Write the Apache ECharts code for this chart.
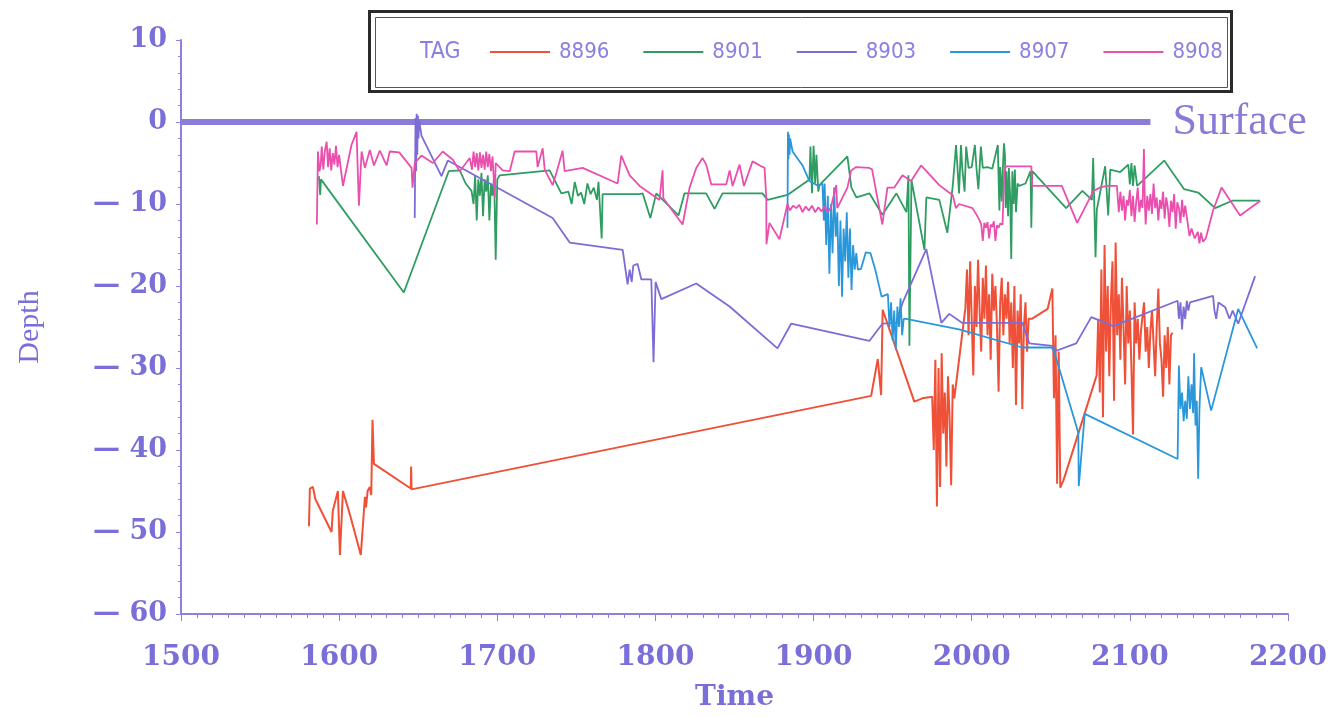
<!DOCTYPE html>
<html><head><meta charset="utf-8">
<script src="https://cdn.jsdelivr.net/npm/echarts@6/dist/echarts.min.js"></script>
<style>html,body{margin:0;padding:0;background:#fff}#c{width:1344px;height:717px}</style>
</head><body><div id="c"></div>
<script>
const tagNames = ['8896','8901','8903','8907','8908'];
const tagColors = ['#ef5138','#2f9d62','#7c6cd6','#2b97db','#ea4fae'];
const surfaceLine = [[1500,0],[2113,0]];

const s8896 = [[1580.9,-49.3],[1581.5,-44.7],[1583.4,-44.5],[1585,-46],[1595.2,-50],[1596,-47.4],[1599.2,-45],[1600.5,-52.8],[1602.4,-45],[1607,-48],[1613.7,-52.8],[1616.3,-45.7],[1617,-47],[1618,-45],[1619.4,-44.5],[1620.3,-45.5],[1621.1,-36.3],[1622,-41.7],[1645.3,-44.7],[1645.5,-42],[1645.8,-44.8],
[1936.4,-33.4],[1940.6,-28.9],[1942.7,-33.3],[1943.7,-22.9],[1963.7,-34.1],[1968.8,-33.7],
[1975,-33.5],[1976,-40],[1977,-29],[1978,-46.9],[1979,-30],[1980,-44.5],[1981,-28.2],[1982,-38],[1983,-33],[1984,-42],[1985,-31],[1986,-36],[1987,-44.3],[1988,-32],[1989,-33.7],
[1996,-22.7],[1997,-18],[1998,-26],[1999,-17],[2000,-24],[2001,-30.9],[2002,-20],[2003,-25],[2004,-16.8],[2005,-23],[2006,-28],[2007,-19],[2008,-24],[2009,-17.5],[2010,-26],[2011,-21],[2012,-29],[2013,-18.5],[2014,-23],[2015,-20],[2016,-25],[2017,-32.9],[2018,-22],[2019,-19],[2020,-26],[2021,-21],[2022,-24],[2023,-19.5],[2024,-27],[2025,-22],[2026,-30],[2027,-20],[2028,-34.5],[2029,-23],[2030,-27],[2031,-21],[2032,-35],[2033,-25],[2034,-22],[2035,-28],[2036,-24],[2038,-24],
[2048,-22.8],[2051,-20.3],[2052,-33.7],[2053,-26],[2054,-44.1],[2055,-28],[2056,-44.6],[2058,-43.7],[2062,-41.3],[2079,-30.9],
[2080,-24],[2081,-33],[2082,-18],[2083,-36],[2084,-15],[2085,-28],[2086,-20],[2087,-31],[2088,-22],[2089,-17],[2090,-34],[2091,-14.7],[2092,-26],[2093,-21],[2094,-29],[2095,-19],[2096,-25],[2097,-32],[2098,-20],[2099,-27],[2100,-23],[2101,-30],[2102,-38.1],[2103,-22],[2104,-27],[2105,-24],[2106,-29],[2107,-25.5],[2108,-25.3],[2109,-22],[2110,-28],[2111,-25],[2112,-30],[2113,-25.5],[2114,-23],[2115,-27],[2116,-31],[2117,-25],[2118,-20.3],[2119,-27],[2120,-29],[2121,-33.5],[2122,-26],[2123,-30],[2124,-25],[2125,-32],[2126,-26],[2127,-25.7]];

const s8901 = [[1587.2,-6.6],[1588,-8.9],[1588.5,-7],[1640.9,-20.8],[1669.3,-6],[1676.3,-5.9],[1680,-7.5],[1683.7,-8.4],
[1685,-10],[1686,-6.5],[1687,-12],[1688,-7],[1689,-9],[1690,-6.2],[1691,-11.5],[1692,-7],[1693,-8.5],[1694,-6.5],[1695,-12],[1696,-7.5],[1697,-9],[1698,-6.5],[1699,-16.8],[1700,-7],[1701.5,-6.5],
[1733.1,-5.9],[1740.5,-8.7],[1745,-8.5],[1747,-10],[1749,-7.3],[1751,-9],[1753,-8.6],[1755,-10],[1757,-7.5],[1759,-8.8],[1761,-8],[1763,-9.5],[1764,-7.3],[1766,-14.2],[1766.6,-8.8],
[1790,-8.8],[1791.9,-8.7],[1796.8,-11.7],[1800.5,-8.7],[1814.6,-11.4],[1818.4,-8.7],[1832.1,-8.7],[1837.4,-10.6],[1842.4,-8.7],[1867.7,-8.7],[1870.9,-9.5],[1883.5,-8.9],
[1897.4,-7],[1898,-3],[1899,-8.7],[1900,-2.9],[1901,-7.5],[1901.8,-4],[1903,-8.5],[1903.7,-7.7],[1921.4,-4.2],[1923.9,-8],[1927.1,-9.2],[1935.3,-8.7],[1943.5,-11.3],[1952.4,-8.7],[1958.7,-11],[1960,-6.5],[1960.6,-27.3],[1961.9,-7.1],[1970.1,-15.6],[1971.3,-9.2],
[1979.5,-9.5],[1984.6,-13.5],[1988,-7.8],[1990.1,-2.8],[1991,-5.6],[1992,-8.7],[1993.2,-2.8],[1994,-5.6],[1995.5,-8.5],[1996.5,-3],[1998,-5.6],[2000,-5.5],[2002,-2.8],[2003,-5.6],[2004.2,-8.2],[2005.8,-3],[2007,-5.6],[2010,-5.5],[2013,-5.7],[2016.5,-2.8],[2017,-7],[2017.5,-10.8],[2018,-5.5],[2019,-9.7],[2019.6,-6],[2020.4,-2.6],[2021,-4],[2021.5,-10.5],[2022,-6],[2023,-11.5],[2023.5,-5.6],[2024.3,-9],[2025,-16.7],[2025.7,-6],[2026.5,-10],[2027.3,-5.8],[2028,-11],[2029,-7.5],[2030,-7.8],[2034,-7.5],[2037.2,-6],[2037.7,-12.9],[2038.3,-6],
[2059.7,-10.5],[2070,-8.4],[2076,-9.5],[2076.8,-4.4],[2078.3,-16.5],[2079.1,-10.7],[2084.4,-5.4],[2086.3,-11.4],[2087.6,-5.8],[2093.9,-6.1],[2099,-5.2],[2100,-7.6],[2101,-5],[2102,-7.8],[2103,-5.3],[2104.6,-7.8],[2121.7,-4.7],[2134.3,-8.2],[2143.2,-8.6],[2153.9,-10.5],[2164.7,-9.6],[2182.3,-9.6]];

const s8903 = [[1647.8,-11.7],[1648.3,0.5],[1648.7,-6],[1649,1],[1649.4,-4],[1649.8,0.8],[1650.2,-2],[1650.6,0.2],[1652.1,-1.7],[1664.7,-6.6],[1668.7,-4.7],[1735,-11.7],[1745.8,-14.7],[1779.3,-15.6],[1782.4,-19.8],[1783.7,-18],[1785,-19.5],[1786,-17.5],[1788.7,-17.3],[1791.1,-19.2],[1797.4,-19.2],[1798.8,-29.3],[1800.1,-19.5],[1803.7,-21.6],[1825.8,-19.7],[1846.9,-22.5],[1877.2,-27.6],[1885.8,-24.6],[1935.3,-26.7],[1943.5,-24.6],[1952.4,-24.5],[1956.2,-22.1],[1971.3,-15.5],[1980.8,-24.5],[1985.8,-23.4],[1994.1,-24.5],[2032,-24.5],[2036.4,-27],[2051,-27.3],[2053.5,-27.9],[2066.1,-27],[2075.6,-23.8],[2089.5,-24.9],[2130.2,-21.8],[2131,-24],[2132,-22],[2133,-25.3],[2134,-22.5],[2135,-24],[2136,-21.8],[2137,-23],[2138,-22],[2152.6,-21.2],[2153.5,-23],[2154.6,-24],[2156,-22],[2160.3,-22.6],[2163,-24],[2165,-23],[2168.5,-24.6],[2179.2,-18.8]];

const s8907 = [[1883.5,-12.9],[1883.8,-1.2],[1884.1,-4.5],[1884.4,-1.5],[1884.8,-4],[1885.2,-2],[1886.7,-3.6],[1893,-5.3],[1897.4,-7.2],[1903,-7.8],[1905.6,-7.5],[1906.5,-12],[1907,-7.5],[1908,-15],[1909,-9],[1910,-18.5],[1911,-10],[1912,-16],[1913,-8],[1914,-14],[1915,-11],[1916,-20],[1917,-12],[1918,-21.3],[1919,-13],[1920,-17],[1921,-11],[1922,-19],[1923,-13],[1924,-20.5],[1925,-15],[1926,-18],[1927,-16],[1928,-18],[1930,-17.9],[1933,-15.9],[1936,-16],[1939,-18],[1943,-21.3],[1947,-21],[1948,-25],[1949,-22],[1950,-26.6],[1951,-23],[1952,-27.8],[1953,-22.5],[1954,-25],[1955,-21.5],[1956,-26],[1957,-24],[1958.5,-24],[1992,-25.3],[2032,-27.5],[2050.3,-27.5],[2052,-27.9],[2067.4,-37.9],[2067.7,-44.4],[2071.5,-35.6],[2130.2,-41.1],[2131,-29.7],[2132,-35],[2133,-33],[2134,-36.5],[2135,-34],[2136,-36.2],[2137,-31],[2138,-35],[2139,-32],[2140,-35.5],[2140.6,-28.2],[2141.5,-37],[2142.3,-34],[2143.2,-43.5],[2144,-35],[2145.1,-29.9],[2151.4,-35.2],[2168.5,-22.8],[2180.5,-27.6]];

const s8908 = [[1585.9,-12.5],[1586.6,-3.6],[1587.5,-6],[1588.3,-5.3],[1589,-3],[1590,-5.8],[1591,-3.5],[1592.1,-2.4],[1593,-5.5],[1594,-3.2],[1595,-5.9],[1596,-3.8],[1597,-5.2],[1598,-2.9],[1599,-5.5],[1600,-4],[1601,-5.6],[1602.4,-7.8],[1607.8,-2.8],[1611,-1.2],[1612.5,-10.2],[1614.2,-3.6],[1616.3,-5.6],[1619.4,-3.4],[1622,-5.3],[1625.7,-3.5],[1630,-5.3],[1632,-3.6],[1638,-3.7],[1645.8,-5.6],[1646.4,-8],[1647.8,-5],[1652.1,-4.1],[1659.2,-5],[1665.5,-3.6],[1671.9,-4.6],[1676.3,-6],[1682.6,-4.4],
[1684,-5.8],[1685,-3.6],[1686,-5.5],[1687,-3.8],[1688,-5.9],[1689,-3.7],[1690,-5.6],[1691,-4],[1692,-5.8],[1693,-3.6],[1694,-5.5],[1695,-3.9],[1696,-6],[1697,-4.2],[1698.4,-9.2],[1699,-5],[1703.4,-5.9],[1707.9,-6],[1711,-3.6],[1724.7,-3.6],[1725.5,-5.5],[1728.7,-3.2],[1730,-5.8],[1735,-7.7],[1737.4,-6.2],[1741.3,-3.5],[1742.6,-6],[1754,-5.6],[1776.1,-7.5],[1778.4,-4.1],[1783.7,-6.5],[1790,-7.8],
[1802.6,-9.5],[1804.5,-5.9],[1805,-9.3],[1817.2,-12.5],[1821.6,-8],[1825.8,-5.6],[1829.8,-4.4],[1832.1,-5.2],[1835.3,-7.6],[1844.8,-7.6],[1846.9,-5.9],[1848.8,-7.8],[1853.2,-5.2],[1856,-7.8],[1861.4,-4.8],[1866.9,-5.4],[1869,-5.6],[1870.1,-9.2],[1870.2,-14.9],[1872.1,-12.3],[1878.4,-14.3],[1883.5,-10],[1885,-10.8],[1887,-10.2],[1889,-10.5],[1891,-10.1],[1893,-11],[1895,-10.3],[1897,-10.8],[1899,-10.2],[1901,-11],[1903,-10.4],[1905,-10.9],[1907,-10.3],[1909,-11],[1911,-10.4],[1914.3,-7.7],[1915,-10.5],[1921.4,-8],[1923.8,-5.9],[1926.9,-5.5],[1935.3,-5.6],[1937,-5.8],[1943.5,-12.5],[1946.7,-8],[1951.1,-8],[1956.2,-6.5],[1961.7,-7.2],[1968,-5.3],
[1979.5,-7.7],[1985,-8.5],[1988,-8.9],[1990,-10.5],[1992,-10],[2000.5,-10.5],[2003,-11.3],[2005,-12],[2006,-12.5],[2007,-14.5],[2008,-12.3],[2009,-12.9],[2010,-12.2],[2011,-14.2],[2012,-12.5],[2013,-12.8],[2014,-12.1],[2015,-14.5],[2016,-12.6],[2017,-12.9],[2018,-12.4],[2019.5,-12.5],[2020.6,-6],[2021.7,-5.4],[2037.7,-5.4],[2038.3,-7.8],[2057,-7.8],[2066.7,-12.3],[2077,-8.4],[2081,-8],[2085.4,-7.8],[2091.8,-7.8],
[2093,-11],[2094,-8.5],[2095,-10.8],[2096,-9],[2097,-12],[2098,-9.5],[2099,-10.2],[2100,-8.3],[2101,-11.5],[2102,-9],[2103,-12.2],[2104,-9.8],[2105,-8],[2106,-11],[2107,-9.5],[2108,-10.5],[2108.9,-3.3],[2109.5,-10],[2110,-12.5],[2111,-9],[2112,-10.8],[2113,-8.8],[2114,-11.2],[2115,-7.5],[2116,-10.5],[2117,-9.2],[2118,-12],[2119,-9.5],[2120,-10.6],[2121,-8.5],[2122,-11.8],[2123,-9.2],[2124,-10.4],[2125,-12.8],[2126,-9.6],[2127,-11],[2128,-8.8],[2129,-13],[2130,-9.8],[2131,-10.5],[2132,-12.3],[2133,-9.5],[2134,-11.6],[2135,-10.2],[2137.7,-13.9],[2139,-13],[2141,-14.2],[2143,-13.4],[2144,-14.8],[2145,-13.5],[2146.3,-14.6],[2148,-14.2],[2152.6,-10.8],[2158,-8],[2169.7,-11.4],[2182.5,-9.6]];

const seriesData = [s8896, s8901, s8903, s8907, s8908];

const chart = echarts.init(document.getElementById('c'), null, {renderer: 'canvas'});
const axisColor = '#8b82e0';
const labelColor = '#7a6fd8';
const legendFont = 'Liberation Sans Narrow, DejaVu Sans Condensed, sans-serif';

const series = tagNames.map((n, i) => ({
  name: n, type: 'line', data: seriesData[i], symbol: 'none', showSymbol: false,
  lineStyle: {width: i === 0 ? 2 : 1.8, color: tagColors[i]}, itemStyle: {color: tagColors[i]},
  emphasis: {disabled: true}, animation: false, z: 3
}));
series.unshift({
  name: 'Surface', type: 'line', data: surfaceLine, symbol: 'none', showSymbol: false,
  lineStyle: {width: 6, color: '#8a7dd8'}, emphasis: {disabled: true}, animation: false, z: 2,
  endLabel: {show: true, formatter: 'Surface', fontFamily: 'Liberation Serif', fontSize: 44, color: '#8a7ad6', distance: 22}
});

chart.setOption({
  backgroundColor: '#fff',
  animation: false,
  grid: {left: 181, right: 56, top: 40, bottom: 95, containLabel: false},
  graphic: [
    {type: 'rect', left: 368, top: 10, shape: {width: 862, height: 80}, style: {fill: '#fff', stroke: '#2b2b2b', lineWidth: 3}, z: 0},
    {type: 'rect', left: 373, top: 15, shape: {width: 852, height: 70}, style: {fill: 'none', stroke: '#555', lineWidth: 1}, z: 0},
    {type: 'text', left: 420, top: 41, style: {text: 'TAG', fontFamily: legendFont, fontSize: 23, fill: '#8a80e0'}, z: 5}
  ],
  legend: {
    data: tagNames, left: 490, top: 41, padding: 0, icon: 'rect', itemWidth: 60, itemHeight: 2, itemGap: 34,
    textStyle: {fontFamily: legendFont, fontSize: 22, color: '#8a80e0', padding: [0,0,0,4]},
    selectedMode: false
  },
  xAxis: {
    type: 'value', min: 1500, max: 2200, interval: 100,
    name: 'Time', nameLocation: 'middle', nameGap: 70,
    nameTextStyle: {fontFamily: 'DejaVu Serif', fontWeight: 'bold', fontSize: 28, color: labelColor},
    axisLine: {show: true, onZero: false, lineStyle: {color: axisColor, width: 2}},
    axisTick: {show: true, length: 7, lineStyle: {color: axisColor}},
    minorTick: {show: true, splitNumber: 10, length: 4, lineStyle: {color: axisColor}},
    splitLine: {show: false},
    axisLabel: {margin: 30, fontFamily: 'DejaVu Serif', fontWeight: 'bold', fontSize: 28, color: labelColor,
      formatter: v => String(v)}
  },
  yAxis: {
    type: 'value', min: -60, max: 10, interval: 10,
    name: 'Depth', nameLocation: 'middle', nameGap: 136,
    nameTextStyle: {fontFamily: 'Liberation Serif', fontSize: 30, color: labelColor},
    axisLine: {show: true, onZero: false, lineStyle: {color: axisColor, width: 2}},
    axisTick: {show: true, length: 5, lineStyle: {color: axisColor}},
    minorTick: {show: true, splitNumber: 5, length: 3, lineStyle: {color: axisColor}},
    splitLine: {show: false},
    axisLabel: {margin: 14, fontFamily: 'DejaVu Serif', fontWeight: 'bold', fontSize: 27, color: labelColor,
      formatter: v => v < 0 ? '\u2014 ' + Math.abs(v) : String(v)}
  },
  series: series
});
</script></body></html>
